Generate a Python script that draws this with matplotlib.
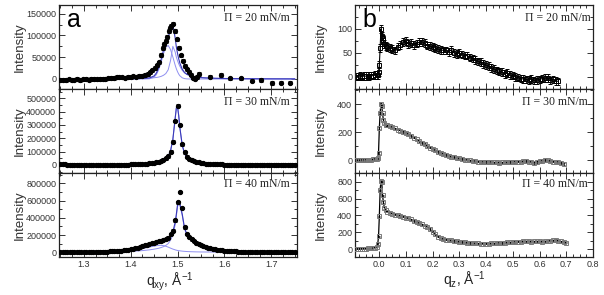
import numpy as np
import matplotlib
matplotlib.use('Agg')
import matplotlib.pyplot as plt
from matplotlib.ticker import FixedLocator, MultipleLocator, AutoMinorLocator, FuncFormatter

plt.rcParams['font.family'] = ['Liberation Sans', 'DejaVu Sans']
plt.rcParams['mathtext.fontset'] = 'custom'
plt.rcParams['mathtext.rm'] = 'Liberation Sans'
plt.rcParams['mathtext.it'] = 'Liberation Sans:italic'

# ---------------- data: panel a (GIXD, q_xy) ----------------
PRESSURES = ['20', '30', '40']

QXY_20 = [1.250, 1.256, 1.262, 1.268, 1.274, 1.280, 1.286, 1.292, 1.298, 1.304,
          1.310, 1.316, 1.322, 1.328, 1.334, 1.340, 1.346, 1.352, 1.358, 1.364,
          1.370, 1.376, 1.382, 1.388, 1.394, 1.400, 1.406, 1.412, 1.418, 1.424,
          1.430, 1.436, 1.441, 1.446, 1.451, 1.456, 1.460, 1.464, 1.468, 1.472,
          1.475, 1.478, 1.481, 1.484, 1.487, 1.490, 1.494, 1.499, 1.503, 1.508,
          1.511, 1.517, 1.521, 1.525, 1.529, 1.533, 1.537, 1.541, 1.546, 1.570,
          1.593, 1.613, 1.635, 1.658, 1.678, 1.701, 1.721, 1.740]
I_20 = [-2000, -1500, -2500, -1000, -2000, -1500, -500, -2000, -1000, 500,
        -1500, -500, 0, -1000, 500, 1000, 0, 1500, 2500, 2000,
        5000, 3500, 4000, 3000, 4500, 4000, 6000, 5500, 7000, 8000,
        9500, 12000, 15000, 20000, 25000, 31000, 38000, 55000, 71000, 80000,
        87000, 97000, 110000, 118000, 122000, 127000, 110000, 91000, 72000, 54000,
        42000, 30000, 22000, 17000, 10000, 3000, 1000, 5000, 12000, 5400,
        9400, 1600, 1600, -4000, -2300, -9400, -8600, -8600]

QXY_GRID = [1.250, 1.255, 1.260, 1.265, 1.270, 1.275, 1.280, 1.285, 1.290, 1.295,
            1.300, 1.305, 1.310, 1.315, 1.320, 1.325, 1.330, 1.335, 1.340, 1.345,
            1.350, 1.355, 1.360, 1.365, 1.370, 1.375, 1.380, 1.385, 1.390, 1.395,
            1.400, 1.405, 1.410, 1.415, 1.420, 1.425, 1.430, 1.435, 1.440, 1.445,
            1.450, 1.455, 1.460, 1.465, 1.470, 1.475, 1.480, 1.485, 1.490, 1.495,
            1.500, 1.505, 1.510, 1.515, 1.520, 1.525, 1.530, 1.535, 1.540, 1.545,
            1.550, 1.555, 1.560, 1.565, 1.570, 1.575, 1.580, 1.585, 1.590, 1.595,
            1.600, 1.605, 1.610, 1.615, 1.620, 1.625, 1.630, 1.635, 1.640, 1.645,
            1.650, 1.655, 1.660, 1.665, 1.670, 1.675, 1.680, 1.685, 1.690, 1.695,
            1.700, 1.705, 1.710, 1.715, 1.720, 1.725, 1.730, 1.735, 1.740, 1.745,
            1.750]
I_30 = [5000, 4000, 4500, 3000, 3500, 2500, 2000, 1500, 1000, 1500,
        500, 0, 1000, 500, -500, 0, 500, 1000, 0, 500,
        -1000, -500, 0, 500, 1000, 1500, 2000, 2500, 3000, 3500,
        4000, 4500, 5000, 5500, 6500, 7000, 8500, 10000, 11500, 14000,
        17000, 20000, 25000, 31000, 39000, 50000, 66000, 100000, 175000, 330000,
        445000, 300000, 155000, 95000, 62000, 45000, 36000, 29000, 23000, 19000,
        16000, 13000, 11000, 9500, 8000, 7000, 6000, 5500, 5000, 4000,
        3500, 3000, 2500, 3000, 2000, 2500, 2000, 1500, 2500, 1000,
        2000, 1500, 2000, 1000, 2500, 1500, 2000, 1000, 2000, 2500,
        1500, 2000, 1000, 2500, 2000, 1500, 2500, 2000, 1500, 2000,
        2500]
I_40 = [2000, 1000, 2000, 1500, 2500, 2000, 3000, 2500, 3000, 3500,
        3000, 4000, 3500, 4500, 4000, 5000, 5500, 6000, 6500, 7000,
        8000, 9000, 10000, 11500, 13000, 15000, 18000, 22000, 26000, 31000,
        36000, 42000, 48000, 55000, 62000, 70000, 79000, 88000, 97000, 104000,
        110000, 118000, 125000, 133000, 143000, 155000, 170000, 210000, 250000, 370000,
        578000, 700000, 514000, 290000, 210000, 178000, 150000, 130000, 112000, 98000,
        86000, 74000, 63000, 54000, 46000, 40000, 34000, 29000, 25000, 22000,
        19000, 17000, 15000, 13000, 11000, 10000, 8000, 7000, 6000, 5000,
        5000, 4000, 4000, 3000, 3000, 2000, 2000, 1000, 1000, 0,
        500, -500, 0, -1000, -500, -1500, -1000, -2000, -1500, -2500,
        -2000]
ERR_A = [4000, 10000, 15000]

# fitted curves
FIT_Q = [1.25, 1.30, 1.35, 1.38, 1.40, 1.42, 1.43, 1.44, 1.45, 1.455,
         1.46, 1.465, 1.47, 1.475, 1.48, 1.485, 1.49, 1.495, 1.4975, 1.50,
         1.5025, 1.505, 1.51, 1.515, 1.52, 1.525, 1.53, 1.54, 1.55, 1.56,
         1.58, 1.60, 1.65, 1.70, 1.75]
FIT20_A = [0, 0, 0, 0, 0, 0, 20, 400, 4200, 10400,
           22000, 39000, 58100, 72900, 77000, 67900, 50600, 31600, 23400, 16700,
           11300, 7400, 2700, 860, 220, 50, 0, 0, 0, 0,
           0, 0, 0, 0, 0]
FIT20_B = [100, 200, 350, 550, 750, 1200, 1500, 2000, 2800, 3500,
           4500, 6000, 8500, 12500, 21000, 42000, 75000, 62000, 50000, 42000,
           35000, 29000, 20000, 14000, 10500, 8500, 6700, 4400, 3200, 2500,
           1600, 1100, 600, 350, 250]
FIT30 = [436, 683, 1215, 1900, 2750, 4300, 5600, 7650, 11000, 13600,
         17100, 22250, 30000, 42500, 64200, 105000, 191000, 352000, 429000, 438000,
         371000, 280000, 149000, 85500, 54000, 36700, 26500, 15600, 10200, 7150,
         4100, 2630, 1180, 670, 430]
FIT40_N = [1000, 2000, 4500, 7000, 10000, 17000, 22000, 28000, 36000, 41000,
           47000, 55000, 65000, 80000, 100000, 140000, 200000, 320000, 420000, 530000,
           565000, 545000, 430000, 270000, 200000, 168000, 140000, 104000, 80000, 60000,
           33000, 18000, 5000, 2000, 1000]
FIT40_W = [3000, 5000, 10000, 16000, 24000, 38000, 48000, 60000, 71000, 76000,
           79000, 80000, 77000, 70000, 60000, 48000, 37000, 28000, 24000, 21000,
           18500, 16500, 13000, 10500, 8500, 7000, 6000, 4500, 3500, 3000,
           2200, 1700, 1000, 700, 500]

# ---------------- data: panel b (q_z) ----------------
QZ = [-0.085, -0.078, -0.071, -0.064, -0.057, -0.050, -0.043, -0.036, -0.029, -0.022,
      -0.015, -0.009, -0.005, -0.002, 0.001, 0.004, 0.007, 0.010, 0.013, 0.016,
      0.020, 0.025, 0.03, 0.04, 0.05, 0.06, 0.07, 0.08, 0.09, 0.10,
      0.11, 0.12, 0.13, 0.14, 0.15, 0.16, 0.17, 0.18, 0.19, 0.20,
      0.21, 0.22, 0.23, 0.24, 0.25, 0.26, 0.27, 0.28, 0.29, 0.30,
      0.31, 0.32, 0.33, 0.34, 0.35, 0.36, 0.37, 0.38, 0.39, 0.40,
      0.41, 0.42, 0.43, 0.44, 0.45, 0.46, 0.47, 0.48, 0.49, 0.50,
      0.51, 0.52, 0.53, 0.54, 0.55, 0.56, 0.57, 0.58, 0.59, 0.60,
      0.61, 0.62, 0.63, 0.64, 0.65, 0.66, 0.67, 0.68, 0.69, 0.70]
IZ_20 = [0, 0, 1, 0, 1, 1, 2, 1, 2, 2,
         3, 3, 4, 10, 25, 60, 100, 85, 80, 72,
         68, 64, 62, 60, 58, 55, 63, 66, 72, 75,
         68, 70, 66, 69, 72, 73, 70, 65, 64, 62,
         60, 58, 56, 55, 55, 52, 56, 50, 48, 49,
         46, 44, 44, 40, 38, 35, 32, 30, 27, 24,
         22, 18, 16, 13, 11, 9, 6, 7, 3, 2,
         -1, -2, -4, -5, -6, -7, -5, -8, -7, -6,
         -4, -3, -3, -8, -6, -9, -10]
IZ_30 = [2, 1, 2, 3, 2, 3, 4, 5, 6, 8,
         10, 12, 18, 55, 230, 340, 405, 390, 335, 290,
         265, 255, 250, 243, 237, 228, 220, 212, 205, 197,
         187, 175, 163, 150, 138, 126, 115, 104, 92, 82,
         72, 62, 54, 46, 39, 33, 27, 22, 18, 14,
         10, 6, 3, 0, -3, -6, -9, -10, -12, -11,
         -10, -13, -14, -15, -17, -15, -13, -14, -12, -12,
         -10, -9, -8, -6, -5, -8, -12, -17, -10, -6,
         -3, 2, 0, -5, -8, -10, -12, -18, -24]
IZ_40 = [5, 4, 5, 6, 5, 6, 7, 8, 10, 12,
         18, 30, 60, 150, 390, 700, 810, 800, 640, 560,
         490, 460, 445, 432, 420, 410, 402, 395, 385, 375,
         365, 352, 335, 322, 308, 295, 280, 265, 240, 205,
         175, 148, 128, 118, 110, 106, 102, 97, 92, 87,
         82, 78, 75, 72, 70, 68, 66, 65, 64, 63,
         65, 66, 68, 70, 72, 70, 75, 78, 80, 82,
         85, 86, 88, 90, 92, 90, 88, 90, 92, 90,
         88, 92, 95, 98, 103, 106, 100, 90, 82, 75]
ERR_B = [8, 6, 8]

# ---------------- layout ----------------
W, H = 604, 295
fig = plt.figure(figsize=(W / 100, H / 100), dpi=100)
TOP, BOT = 5, 257
PH = (BOT - TOP) / 3.0


def rect(x0, x1, i):
    yt = TOP + i * PH
    return [x0 / W, 1 - (yt + PH) / H, (x1 - x0) / W, PH / H]


def style(ax):
    ax.tick_params(which='both', direction='in', top=True, right=True,
                   labelsize=6.5, colors='#333333', width=0.7, pad=2)
    ax.tick_params(which='major', length=4)
    ax.tick_params(which='minor', length=2)
    for s in ax.spines.values():
        s.set_linewidth(0.9)
        s.set_color('#222222')


plain = FuncFormatter(lambda v, p: '%d' % v)

LIGHT = '#8f8ff0'
DARK = '#3a3ab8'

left_ylims = [(-23000, 170000), (-60000, 570000), (-55000, 920000)]
left_yticks = [[0, 50000, 100000, 150000],
               [0, 100000, 200000, 300000, 400000, 500000],
               [0, 200000, 400000, 600000, 800000]]
left_data = [(QXY_20, I_20), (QXY_GRID, I_30), (QXY_GRID, I_40)]
left_fits = [[FIT20_A, FIT20_B], [FIT30], [FIT40_N, FIT40_W]]

right_ylims = [(-26, 150), (-90, 510), (-95, 905)]
right_yticks = [[0, 50, 100], [0, 200, 400], [0, 200, 400, 600, 800]]
right_data = [IZ_20, IZ_30, IZ_40]

text_y = [0.845, 0.851, 0.865]
right_text_x = [0.99, 0.98, 0.98]

for i in range(3):
    # ---- left column ----
    ax = fig.add_axes(rect(59, 297, i))
    style(ax)
    comps = left_fits[i]
    for c in comps:
        ax.plot(FIT_Q, c, color=LIGHT, lw=0.7, zorder=2)
    if len(comps) > 1:
        ax.plot(FIT_Q, np.add(comps[0], comps[1]), color=DARK, lw=0.8, zorder=2)
    else:
        ax.plot(FIT_Q, comps[0], color=DARK, lw=0.8, zorder=2)
    qx, iv = left_data[i]
    ax.errorbar(qx, iv, yerr=ERR_A[i], fmt='o', ms=2.8, color='k', mec='k',
                elinewidth=0.6, capsize=1.5, capthick=0.6, zorder=3)
    ax.set_xlim(1.247, 1.755)
    ax.set_ylim(*left_ylims[i])
    ax.xaxis.set_major_locator(MultipleLocator(0.1))
    ax.xaxis.set_minor_locator(MultipleLocator(0.025))
    ax.yaxis.set_major_locator(FixedLocator(left_yticks[i]))
    ax.yaxis.set_minor_locator(AutoMinorLocator(2))
    ax.yaxis.set_major_formatter(plain)
    ax.set_ylabel('Intensity', fontsize=9.5, color='#333333')
    ax.yaxis.set_label_coords(-0.139, 0.5)
    ax.text(0.971, text_y[i], '\u03a0 = %s mN/m' % PRESSURES[i], transform=ax.transAxes,
            ha='right', va='center', fontsize=8.5, family='Liberation Serif', color='#222222')
    if i < 2:
        ax.tick_params(labelbottom=False)
    else:
        ax.set_xlabel(r'$\mathregular{q_{xy}}$, Å$^{\mathregular{-1}}$', fontsize=10, color='#222222')
        ax.xaxis.set_label_coords(0.466, -0.155)
        ax.xaxis.label.set_va('top')
    if i == 0:
        ax.text(0.035, 0.97, 'a', transform=ax.transAxes, ha='left', va='top', fontsize=18)

    # ---- right column ----
    bx = fig.add_axes(rect(355, 593, i))
    style(bx)
    vals = right_data[i]
    qz = QZ[:len(vals)]
    if i == 0:
        bx.errorbar(qz, vals, yerr=ERR_B[i], fmt='-s', ms=3, mfc='none', mec='k', mew=0.7,
                    color='k', lw=0.8, elinewidth=0.6, capsize=1.5, capthick=0.6)
    else:
        bx.errorbar(qz, vals, yerr=ERR_B[i], fmt='-', color='k', lw=0.9,
                    elinewidth=0.5, capsize=1.0, capthick=0.5, zorder=2)
        bx.plot(qz, vals, 's', ms=3, mfc='none', mec='#7a7a7a', mew=0.7, zorder=3)
    bx.set_xlim(-0.09, 0.8)
    bx.set_ylim(*right_ylims[i])
    bx.xaxis.set_major_locator(MultipleLocator(0.1))
    bx.xaxis.set_minor_locator(MultipleLocator(0.025))
    bx.yaxis.set_major_locator(FixedLocator(right_yticks[i]))
    bx.yaxis.set_minor_locator(AutoMinorLocator(2))
    bx.yaxis.set_major_formatter(plain)
    bx.set_ylabel('Intensity', fontsize=9.5, color='#333333')
    bx.yaxis.set_label_coords(-0.118, 0.5)
    bx.text(right_text_x[i], text_y[i], '\u03a0 = %s mN/m' % PRESSURES[i], transform=bx.transAxes,
            ha='right', va='center', fontsize=8.5, family='Liberation Serif', color='#222222')
    if i < 2:
        bx.tick_params(labelbottom=False)
    else:
        bx.xaxis.set_major_formatter(FuncFormatter(lambda v, p: '%.1f' % v))
        bx.set_xlabel(r'$\mathregular{q_{z}}$, Å$^{\mathregular{-1}}$', fontsize=10, color='#222222')
        bx.xaxis.set_label_coords(0.458, -0.155)
        bx.xaxis.label.set_va('top')
    if i == 0:
        bx.text(0.03, 0.97, 'b', transform=bx.transAxes, ha='left', va='top', fontsize=18)

fig.savefig('out.png', dpi=100)
